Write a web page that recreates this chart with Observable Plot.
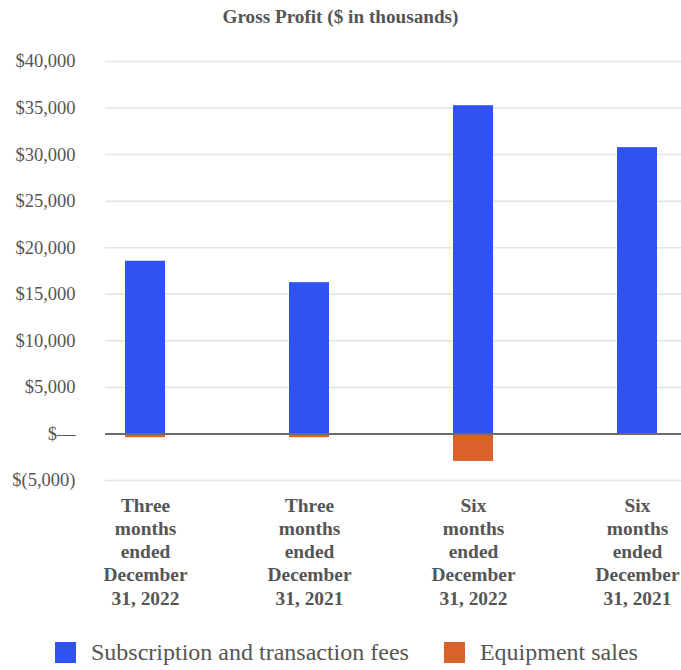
<!DOCTYPE html>
<html>
<head>
<meta charset="utf-8">
<script src="https://cdn.jsdelivr.net/npm/d3@7"></script>
<script src="https://cdn.jsdelivr.net/npm/@observablehq/plot@0.6"></script>
<style>
  body { margin: 0; background: #fff; font-family: "Liberation Serif", "Times New Roman", Times, "DejaVu Serif", serif; }
  #wrap { position: relative; width: 681px; height: 670px; }
  #title { position: absolute; top: 0; left: 0; width: 681px; text-align: center; font-size: 19.2px; font-weight: bold; color: #555; line-height: 34px; }
  #chart { position: absolute; top: 34px; left: 0; }
  #legend { position: absolute; top: 639px; left: 55px; font-size: 24px; color: #555; display: flex; align-items: center; }
  .sw { display: inline-block; width: 21px; height: 21px; margin-right: 15px; }
  .item { display: flex; align-items: center; margin-right: 35px; }
</style>
</head>
<body>
<div id="wrap">
  <div id="title">Gross Profit ($ in thousands)</div>
  <div id="chart"></div>
  <div id="legend"></div>
</div>
<script>
const categories = [
  "Three\nmonths\nended\nDecember\n31, 2022",
  "Three\nmonths\nended\nDecember\n31, 2021",
  "Six\nmonths\nended\nDecember\n31, 2022",
  "Six\nmonths\nended\nDecember\n31, 2021"
];
const seriesNames = ["Subscription and transaction fees", "Equipment sales"];
const subscription = [18550, 16250, 35250, 30750];
const equipment = [-400, -400, -2950, 0];
const yTicks = [-5000, 0, 5000, 10000, 15000, 20000, 25000, 30000, 35000, 40000];
const colors = ["#2f52f0", "#d9622b"];

const rows = [];
categories.forEach((c, i) => {
  rows.push({cat: c, series: seriesNames[0], value: subscription[i]});
  rows.push({cat: c, series: seriesNames[1], value: equipment[i]});
});

const fmt = d3.format(",");
const yFmt = d => d === 0 ? "$\u2014" : d < 0 ? `$(${fmt(-d)})` : "$" + fmt(d);
const FONT = "'Liberation Serif', 'Times New Roman', Times, 'DejaVu Serif', serif";

const chart = Plot.plot({
  width: 681,
  height: 600,
  marginLeft: 105,
  marginRight: 0,
  marginTop: 27,
  marginBottom: 154,
  style: {fontFamily: FONT, color: "#555", background: "transparent"},
  x: {domain: categories, range: [63, 719], paddingInner: 0.756, paddingOuter: 0.378},
  y: {domain: [-5000, 40000]},
  color: {domain: seriesNames, range: colors},
  marks: [
    Plot.ruleY(yTicks.filter(d => d !== 0), {stroke: "#e4e4e4", strokeWidth: 1.5}),
    Plot.barY(rows, {x: "cat", y: "value", fill: "series"}),
    Plot.ruleY([0], {stroke: "#6b6b6b", strokeWidth: 2}),
    Plot.axisY({ticks: yTicks, tickFormat: yFmt, tickSize: 0, tickPadding: 30, fontSize: 18.5, label: null}),
    Plot.axisX({tickSize: 0, tickPadding: 14.5, fontSize: 19.4, fontWeight: "bold", lineHeight: 1.2, label: null})
  ]
});
document.getElementById("chart").appendChild(chart);

const legend = document.getElementById("legend");
seriesNames.forEach((n, i) => {
  const it = document.createElement("div");
  it.className = "item";
  const sw = document.createElement("span");
  sw.className = "sw";
  sw.style.background = colors[i];
  const tx = document.createElement("span");
  tx.textContent = n;
  it.appendChild(sw);
  it.appendChild(tx);
  legend.appendChild(it);
});
</script>
</body>
</html>
